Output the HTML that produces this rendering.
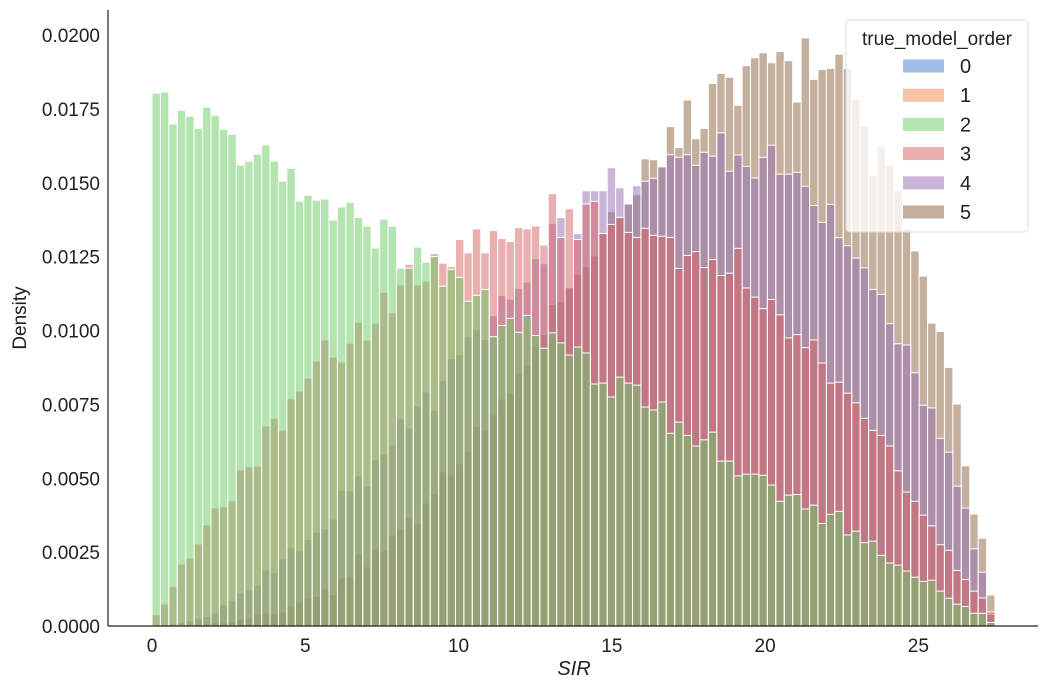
<!DOCTYPE html>
<html><head><meta charset="utf-8"><style>
html,body{margin:0;padding:0;background:#fff;}
svg{display:block;font-family:"Liberation Sans","DejaVu Sans",sans-serif;}
</style></head><body>
<svg id="chart" width="1048" height="690" viewBox="0 0 1048 690" xmlns="http://www.w3.org/2000/svg">
<rect width="1048" height="690" fill="#fff"/>
<g id="bars"></g>
<line x1="108" y1="10" x2="108" y2="626" stroke="#222" stroke-width="1.2"/>
<line x1="108" y1="626" x2="1038" y2="626" stroke="#222" stroke-width="1.2"/>
<g id="xticks"></g>
<g id="yticks"></g>
<text x="574" y="675" font-size="20" font-style="italic" text-anchor="middle" fill="#222">SIR</text>
<text x="0" y="0" transform="translate(26,318) rotate(-90)" font-size="19" text-anchor="middle" fill="#222">Density</text>
<g id="legend">
<rect x="846" y="20" width="182" height="212" rx="4" fill="#fff" fill-opacity="0.8" stroke="#ddd" stroke-width="1"/>
<text x="937" y="45" font-size="19" text-anchor="middle" fill="#222">true_model_order</text>
</g>
</svg>
<script>
const binStart = 0, binWidth = 0.275;
const hueLabels = ["0","1","2","3","4","5"];
const hueColors = ["#4878d0","#ee854a","#6acc64","#d65f5f","#956cb4","#8c613c"];
// densities in units of 1e-4
const series2 = [180.3,180.7,169.9,174.5,172.5,168.4,175.6,172.8,168.1,166.4,156,157.3,159.7,162.8,157.3,150.5,154.9,143.8,145.8,144.1,144.5,137.4,141.8,143.4,138.3,135.3,127.9,137.7,135.3,121.1,121.1,128.2,123.1,125,115,120.7,118,109.9,111.9,113.9,97.9,101.7,104.1,99.4,105.1,98.3,94,99.2,95.8,91.7,94.4,92.4,81.9,82.2,77.5,84.2,82.2,81.5,74.1,73.1,75.8,65.2,69,64.5,60.9,63,65.6,55.8,55.8,50.8,51.4,51.4,51,47.7,42.2,44.3,44.5,39.6,40.9,34.7,37.8,38.8,30.8,32.1,28.2,28.7,23.9,21.3,20.6,18.6,16.5,15.1,15.5,11.8,9.4,7.4,6.6,4.3,4.3,1.2];
const series3 = [3.8,7.5,13.3,21,23,27.8,34.2,40,40.3,42.3,52.8,53.9,54.2,67.7,70.3,66.3,76.9,79.5,83.9,89.7,96.8,91,89.3,95.7,102.8,96.8,102.5,113,106,115.4,122.4,115.4,116.7,126,122.8,121.6,130.8,126.3,134.4,126.3,133.8,131.1,130.1,134.8,134.4,135.4,128.9,146.3,131.5,141.2,130.8,142.8,143.7,132.8,135.9,138.3,133.2,131.5,134.6,132.2,131.9,131.5,121,125.4,126.7,121.3,124,118.6,119.4,127.8,114.4,111.3,107.4,110.5,105.3,97.5,98.6,94.2,96.8,89,82.2,82.5,78.8,75.5,70.3,66.2,64.5,60.9,52.5,45.3,42.2,37.5,33.9,27.5,25.6,18.8,15.7,11.8,9.5,4.8];
const series4 = [0.2,0.4,0.7,1.1,1.8,2.7,3.2,4.4,7.1,8.5,11.2,12.2,13.9,19,18,22.7,26.5,25.4,29.2,31.6,32.9,36.2,46,45.7,50.8,47.4,56.2,58.2,61.2,70.1,67,74.5,79.2,73,83,90.5,91.7,97.9,100.2,96.9,105,111.8,110.6,114.2,116.4,124.3,122.6,136.2,138.2,114.5,132.8,147.3,147.3,147.3,155.1,148.3,142.8,149,150.5,151.5,155.4,159.5,158.6,159.5,155.9,160.3,159,166.9,153.9,159.4,155.5,151.6,158.6,162.7,152.9,152.9,153.5,148.8,142.3,136.6,142.7,131.4,128.7,124.5,121.2,113.9,112.2,102.3,95.5,95.1,85.7,74.7,73.8,63.5,58.8,47.3,39.9,26.1,18.2,4];
const series5 = [0,0.1,0.2,0.3,0.5,0.6,0.8,1.1,1.1,1.5,2.3,2.6,3.9,4.4,4.2,4.7,6.8,8.2,9.5,10,12.3,10.6,16.3,16.6,24.4,20,26.1,25.5,30.5,32.9,36.9,34.5,41.6,44.8,52.2,51.1,54.9,59,67.4,66.3,71.4,76.9,78.8,85.3,88.3,94.5,98.6,108.8,109.7,114.4,118.9,121.6,125.2,132.8,140.2,138,142.8,145.9,158.1,157.8,155.4,169,161.9,178,164.9,168.4,183.6,187,185.7,176.2,189.6,192.3,194,190.6,194.4,191.3,177.3,199,185,188.3,188.7,193.5,188.7,178.4,169.4,152.5,162.3,156.1,147.4,134.4,126.9,118.4,102.5,99.7,87.5,75.1,54.2,37.9,29.7,10.5];
const yTicks = [0,0.0025,0.005,0.0075,0.01,0.0125,0.015,0.0175,0.02];
const yTickLabels = ["0.0000","0.0025","0.0050","0.0075","0.0100","0.0125","0.0150","0.0175","0.0200"];
const xTicks = [0,5,10,15,20,25];
const xTickLabels = ["0","5","10","15","20","25"];

const X0 = 152, XS = 30.655, Y0 = 626, YS = 29550;
function xs(v){ return X0 + v*XS; }
function ys(v){ return Y0 - v*YS; }
const NS = "http://www.w3.org/2000/svg";
const barsG = document.getElementById('bars');
const drawList = [[5,series5],[4,series4],[3,series3],[2,series2]];
drawList.forEach(function(p){
  const h = p[0], arr = p[1];
  const g = document.createElementNS(NS,'g');
  
  
  arr.forEach(function(v,i){
    const d = v*1e-4;
    const x1 = xs(binStart + i*binWidth), x2 = xs(binStart + (i+1)*binWidth);
    const r = document.createElementNS(NS,'rect');
    
    
    r.setAttribute('x', x1); r.setAttribute('width', x2-x1);
    r.setAttribute('y', ys(d)); r.setAttribute('height', Y0 - ys(d));
    r.setAttribute('fill', hueColors[h]); r.setAttribute('fill-opacity','0.5');
    r.setAttribute('stroke','#fff'); r.setAttribute('stroke-width','1');
    g.appendChild(r);
  });
  barsG.appendChild(g);
});
const xg = document.getElementById('xticks');
xTicks.forEach(function(t,i){
  const tx = document.createElementNS(NS,'text');
  
  
  tx.setAttribute('x', xs(t)); tx.setAttribute('y', 652);
  tx.setAttribute('font-size','19'); tx.setAttribute('text-anchor','middle'); tx.setAttribute('fill','#222');
  tx.textContent = xTickLabels[i];
  xg.appendChild(tx);
});
const yg = document.getElementById('yticks');
yTicks.forEach(function(t,i){
  const tx = document.createElementNS(NS,'text');
  
  
  tx.setAttribute('x', 100); tx.setAttribute('y', ys(t)+7);
  tx.setAttribute('font-size','19'); tx.setAttribute('text-anchor','end'); tx.setAttribute('fill','#222');
  tx.textContent = yTickLabels[i];
  yg.appendChild(tx);
});
const lg = document.getElementById('legend');
hueLabels.forEach(function(lab,i){
  const cy = 66 + i*29.2;
  const r = document.createElementNS(NS,'rect');
  
  
  r.setAttribute('x',903); r.setAttribute('y',cy-6.5); r.setAttribute('width',41); r.setAttribute('height',13);
  r.setAttribute('fill',hueColors[i]); r.setAttribute('fill-opacity','0.5');
  lg.appendChild(r);
  const tx = document.createElementNS(NS,'text');
  
  
  tx.setAttribute('x',960); tx.setAttribute('y',cy+7);
  tx.setAttribute('font-size','20'); tx.setAttribute('fill','#222');
  tx.textContent = lab;
  lg.appendChild(tx);
});
</script>
</body></html>
